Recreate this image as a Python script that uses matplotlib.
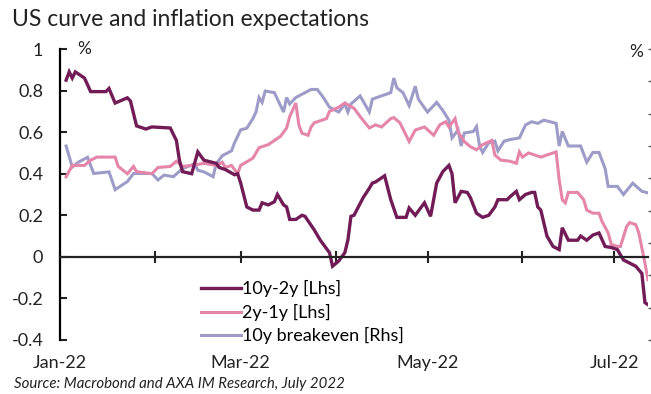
import matplotlib
matplotlib.use("Agg")
import matplotlib.pyplot as plt
import matplotlib.dates as mdates
import pandas as pd

plt.rcParams["font.family"] = ["Lato", "DejaVu Sans"]

# 10y-2y spread, % (left axis)
curve_dates = ["01-03", "01-04", "01-05", "01-06", "01-09", "01-11", "01-16", "01-17", "01-19", "01-23", "01-24", "01-26", "01-29", "01-31",
               "02-06", "02-08", "02-09", "02-10", "02-13", "02-15", "02-17", "02-21", "02-22", "02-24", "02-27", "02-28",
               "03-01", "03-03", "03-05", "03-07", "03-08", "03-10", "03-12", "03-13", "03-15", "03-16", "03-17", "03-19", "03-21", "03-22", "03-25", "03-27", "03-30", "03-31",
               "04-02", "04-04", "04-05", "04-06", "04-07", "04-10", "04-12", "04-13", "04-14", "04-17", "04-19", "04-21", "04-24", "04-25", "04-27", "04-30",
               "05-02", "05-04", "05-06", "05-08", "05-09", "05-10", "05-12", "05-14", "05-15", "05-17", "05-19", "05-21", "05-23", "05-24", "05-27", "05-28", "05-30", "05-31",
               "06-02", "06-04", "06-05", "06-06", "06-07", "06-09", "06-11", "06-13", "06-14", "06-16", "06-19", "06-20", "06-22", "06-24", "06-26", "06-28", "06-30",
               "07-02", "07-04", "07-06", "07-08", "07-10", "07-11", "07-12"]
curve_vals = [0.85, 0.89, 0.86, 0.89, 0.86, 0.795, 0.795, 0.81, 0.74, 0.765, 0.75, 0.63, 0.615, 0.625,
              0.62, 0.56, 0.465, 0.41, 0.40, 0.505, 0.465, 0.45, 0.43, 0.42, 0.395, 0.40,
              0.355, 0.24, 0.225, 0.225, 0.26, 0.25, 0.265, 0.30, 0.25, 0.24, 0.18, 0.18, 0.20, 0.195, 0.13, 0.08, 0.02, -0.045,
              -0.02, 0.02, 0.08, 0.195, 0.20, 0.285, 0.33, 0.355, 0.36, 0.39, 0.275, 0.19, 0.19, 0.235, 0.20, 0.26,
              0.195, 0.355, 0.41, 0.44, 0.40, 0.26, 0.315, 0.31, 0.285, 0.21, 0.19, 0.20, 0.24, 0.275, 0.275, 0.29, 0.315, 0.275,
              0.30, 0.31, 0.31, 0.24, 0.225, 0.10, 0.05, 0.035, 0.14, 0.08, 0.08, 0.10, 0.08, 0.105, 0.115, 0.05, 0.045,
              0.035, -0.015, -0.03, -0.045, -0.08, -0.22, -0.23]

# 2y-1y spread, % (left axis)
short_dates = ["01-03", "01-05", "01-09", "01-11", "01-13", "01-19", "01-20", "01-23", "01-25", "01-26", "01-31",
               "02-02", "02-06", "02-08", "02-10", "02-13", "02-17", "02-21", "02-23", "02-24", "02-26", "02-28",
               "03-01", "03-05", "03-07", "03-10", "03-12", "03-14", "03-16", "03-17", "03-19", "03-20", "03-21", "03-23", "03-24", "03-25", "03-29", "03-30",
               "04-02", "04-04", "04-07", "04-09", "04-12", "04-14", "04-16", "04-19", "04-20", "04-22", "04-25", "04-27", "04-30",
               "05-03", "05-05", "05-07", "05-08", "05-10", "05-11", "05-13", "05-15", "05-17", "05-19", "05-22", "05-23", "05-25", "05-28", "05-30", "05-31",
               "06-01", "06-03", "06-05", "06-07", "06-12", "06-13", "06-14", "06-15", "06-16", "06-19", "06-21", "06-22", "06-24", "06-26", "06-27", "06-29", "06-30",
               "07-02", "07-03", "07-05", "07-06", "07-08", "07-09", "07-11", "07-12"]
short_vals = [0.385, 0.44, 0.44, 0.465, 0.48, 0.48, 0.435, 0.40, 0.435, 0.41, 0.40,
              0.43, 0.435, 0.46, 0.435, 0.44, 0.45, 0.44, 0.455, 0.43, 0.44, 0.40,
              0.44, 0.475, 0.525, 0.54, 0.56, 0.58, 0.62, 0.675, 0.74, 0.635, 0.595, 0.585, 0.625, 0.645, 0.665, 0.70,
              0.72, 0.74, 0.715, 0.675, 0.62, 0.635, 0.625, 0.665, 0.67, 0.645, 0.555, 0.61, 0.625,
              0.585, 0.635, 0.65, 0.625, 0.665, 0.60, 0.555, 0.53, 0.515, 0.54, 0.56, 0.49, 0.465, 0.46, 0.45, 0.505,
              0.48, 0.50, 0.49, 0.48, 0.505, 0.37, 0.275, 0.26, 0.31, 0.31, 0.275, 0.225, 0.21, 0.21, 0.17, 0.115, 0.06,
              0.05, 0.05, 0.145, 0.165, 0.155, 0.115, -0.03, -0.11]

# 10y breakeven, % (right axis)
be_dates = ["01-03", "01-05", "01-07", "01-10", "01-12", "01-17", "01-19", "01-23", "01-25", "01-31",
            "02-02", "02-04", "02-07", "02-10", "02-14", "02-15", "02-17", "02-20", "02-21", "02-23", "02-26", "02-27",
            "03-01", "03-03", "03-05", "03-06", "03-07", "03-08", "03-09", "03-12", "03-15", "03-16", "03-17", "03-19", "03-22", "03-24", "03-26", "03-28", "03-30",
            "04-02", "04-04", "04-05", "04-06", "04-09", "04-12", "04-13", "04-16", "04-19", "04-20", "04-21", "04-23", "04-25", "04-27", "04-28",
            "05-01", "05-04", "05-06", "05-08", "05-09", "05-11", "05-12", "05-13", "05-16", "05-17", "05-18", "05-19", "05-21", "05-23", "05-24", "05-26", "05-28", "05-31",
            "06-02", "06-04", "06-06", "06-08", "06-10", "06-12", "06-13", "06-14", "06-16", "06-20", "06-22", "06-24", "06-26", "06-28", "06-29",
            "07-02", "07-04", "07-07", "07-10", "07-12"]
be_vals = [2.60, 2.47, 2.50, 2.53, 2.43, 2.44, 2.33, 2.38, 2.43, 2.43,
           2.39, 2.42, 2.41, 2.46, 2.49, 2.45, 2.44, 2.41, 2.49, 2.54, 2.57, 2.62,
           2.70, 2.71, 2.77, 2.81, 2.90, 2.87, 2.94, 2.93, 2.81, 2.90, 2.86, 2.90, 2.93, 2.95, 2.95, 2.90, 2.84,
           2.81, 2.86, 2.81, 2.86, 2.91, 2.81, 2.89, 2.91, 2.93, 3.02, 2.96, 2.93, 2.85, 2.97, 2.89,
           2.81, 2.87, 2.82, 2.76, 2.65, 2.70, 2.60, 2.68, 2.69, 2.72, 2.60, 2.56, 2.62, 2.63, 2.57, 2.63, 2.64, 2.65,
           2.73, 2.75, 2.74, 2.76, 2.75, 2.74, 2.60, 2.69, 2.60, 2.60, 2.50, 2.56, 2.56, 2.46, 2.35,
           2.35, 2.30, 2.37, 2.32, 2.31]

labels = ["10y-2y [Lhs]", "2y-1y [Lhs]", "10y breakeven [Rhs]"]
colors = ["#721c57", "#e585aa", "#9d9cc8"]


def to_dates(days):
    return pd.to_datetime(["2022-" + d for d in days])


fig = plt.figure(figsize=(6.51, 3.94), dpi=100)
ax = fig.add_axes([60 / 651, 1 - 340 / 394, 588 / 651, 291 / 394])
ax2 = ax.twinx()
ax.set_zorder(ax2.get_zorder() + 1)
ax.patch.set_visible(False)

l3, = ax2.plot(to_dates(be_dates), be_vals, color=colors[2], lw=2.2, solid_joinstyle="miter")
l2, = ax.plot(to_dates(short_dates), short_vals, color=colors[1], lw=2.2, solid_joinstyle="miter")
l1, = ax.plot(to_dates(curve_dates), curve_vals, color=colors[0], lw=2.4, solid_joinstyle="miter")

ax.set_ylim(-0.4, 1.0)
ax.set_yticks([-0.4, -0.2, 0, 0.2, 0.4, 0.6, 0.8, 1.0])
ax.set_yticklabels(["-0.4", "-0.2", "0", "0.2", "0.4", "0.6", "0.8", "1"])
ax2.set_ylim(1.4, 3.2)
ax2.set_yticks([1.4 + 0.2 * i for i in range(10)])
ax2.set_yticklabels([])

ax.set_xlim(pd.Timestamp("2022-01-01"), pd.Timestamp("2022-07-12"))
ax.xaxis.set_major_locator(mdates.MonthLocator(bymonth=[1, 3, 5, 7]))
ax.xaxis.set_minor_locator(mdates.MonthLocator())
ax.xaxis.set_major_formatter(mdates.DateFormatter("%b-%y"))

for s in ["top", "right"]:
    ax.spines[s].set_visible(False)
for s in ["top", "right", "left", "bottom"]:
    ax2.spines[s].set_visible(False)
ax.spines["left"].set_linewidth(1.6)
ax.spines["bottom"].set_position(("data", 0))
ax.spines["bottom"].set_linewidth(1.6)
ax.spines["bottom"].set_color("#222222")

ax.tick_params(axis="y", direction="in", length=5, width=1.5, pad=12, labelsize=13, colors="#222222")
ax.tick_params(axis="x", which="both", direction="inout", length=9, width=1.5, pad=66, labelsize=13,
               colors="#222222")
ax2.tick_params(axis="y", direction="out", length=3, width=1, colors="#555555")

ax.text(0.03, 1.0, "%", transform=ax.transAxes, fontsize=12.5, ha="left", va="center", color="#222222")
ax.text(0.98, 0.99, "%", transform=ax.transAxes, fontsize=12.5, ha="center", va="center", color="#222222")

ax.legend([l1, l2, l3], labels, loc="lower left", bbox_to_anchor=(0.228, -0.04), frameon=False,
          fontsize=13, handlelength=2.2, handletextpad=0.08, labelspacing=0.36, borderaxespad=0.0)

fig.text(12 / 651, 1 - 20 / 394, "US curve and inflation expectations", fontsize=16.5, ha="left", va="center",
         color="#222222")
fig.text(14 / 651, 1 - 384 / 394, "Source: Macrobond and AXA IM Research, July 2022", fontsize=10.8,
         style="italic", ha="left", va="center", color="#222222")

fig.savefig("out.png", dpi=100)
